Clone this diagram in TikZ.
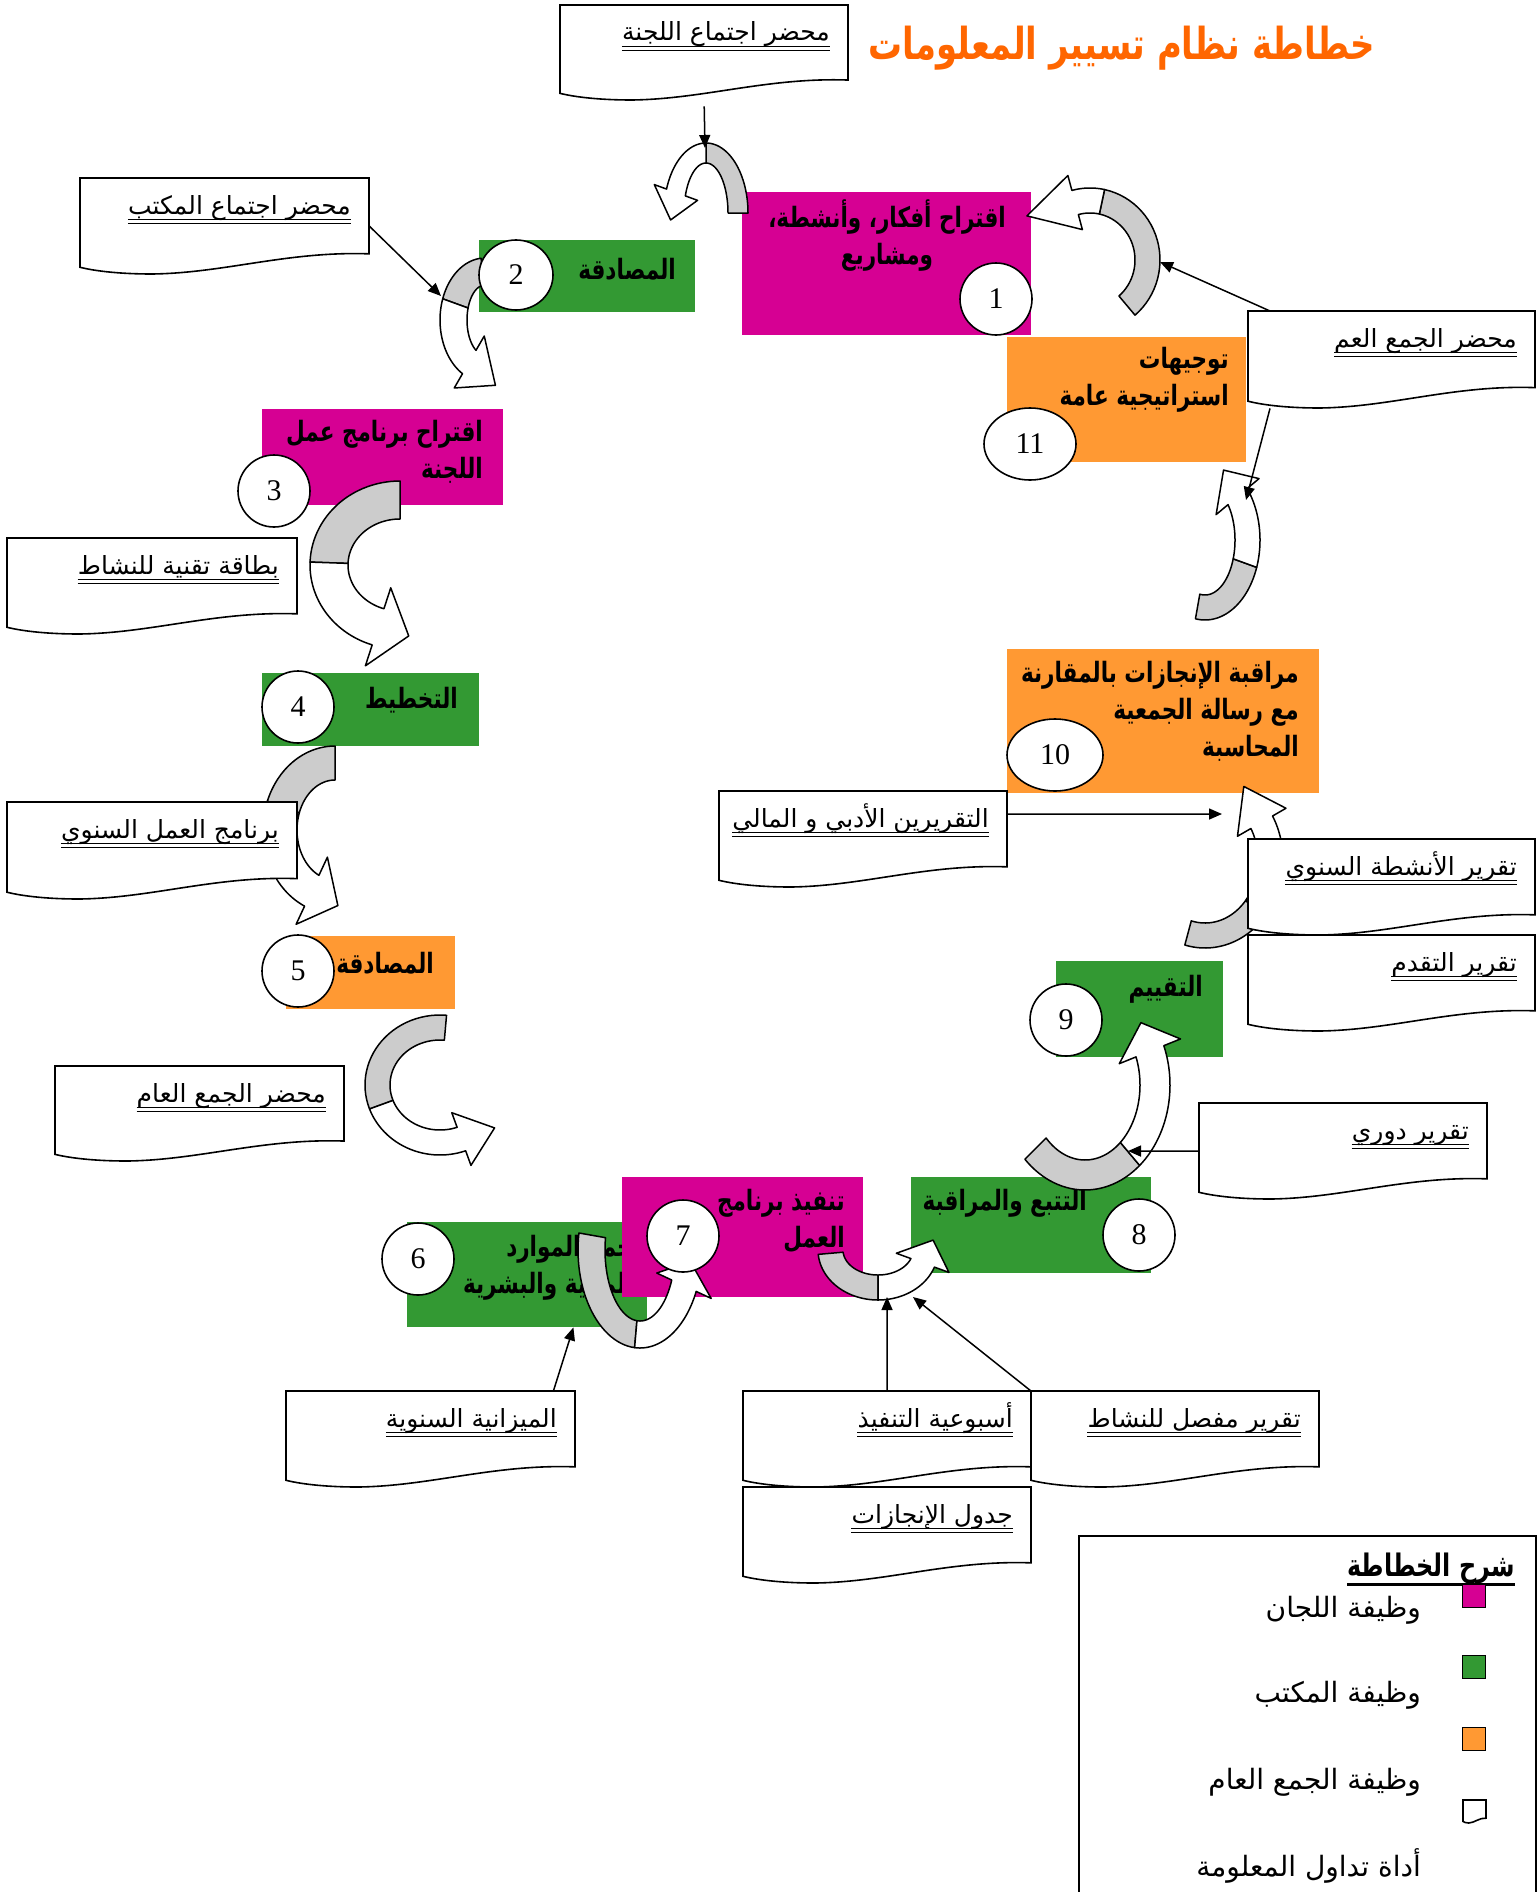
\documentclass[tikz,border=0pt]{standalone}
\usepackage{fontspec}
\usetikzlibrary{shapes.geometric,arrows.meta,calc}
\TeXXeTstate=1
\newfontfamily\arab[Script=Arabic, BoldFeatures={FakeStretch=0.77}]{DejaVu Sans}
\newfontfamily\numf{Liberation Serif}
\definecolor{cmag}{RGB}{214,0,147}
\definecolor{cgreen}{RGB}{51,153,51}
\definecolor{corange}{RGB}{255,153,51}
\definecolor{ctitle}{RGB}{255,102,0}
\definecolor{cgrey}{RGB}{204,204,204}
\newcommand\AR[1]{\beginR #1\endR}
% curved block arrow: cx cy rx ry w t0 tm t1 headlength
\newcommand\CArrow[9]{%
 \pgfmathsetmacro\caCX{#1}\pgfmathsetmacro\caCY{#2}%
 \pgfmathsetmacro\caRXo{#3}\pgfmathsetmacro\caRYo{#4}%
 \pgfmathsetmacro\caRXi{#3-#5}\pgfmathsetmacro\caRYi{#4-#5}%
 \pgfmathsetmacro\caRXm{#3-#5/2}\pgfmathsetmacro\caRYm{#4-#5/2}%
 \pgfmathsetmacro\caHE{0.5*#5+3}%
 \pgfmathsetmacro\caS{sign((#8)-(#6))}%
 \pgfmathsetmacro\caTX{-\caS*\caRXm*sin(#8)}%
 \pgfmathsetmacro\caTY{\caS*\caRYm*cos(#8)}%
 \pgfmathsetmacro\caTL{veclen(\caTX,\caTY)}%
 \pgfmathsetmacro\caPX{\caCX+\caRXm*cos(#8)+#9*\caTX/\caTL}%
 \pgfmathsetmacro\caPY{\caCY+\caRYm*sin(#8)+#9*\caTY/\caTL}%
 \pgfmathsetmacro\caOX{\caCX+(\caRXo+\caHE)*cos(#8)}%
 \pgfmathsetmacro\caOY{\caCY+(\caRYo+\caHE)*sin(#8)}%
 \pgfmathsetmacro\caIX{\caCX+(\caRXi-\caHE)*cos(#8)}%
 \pgfmathsetmacro\caIY{\caCY+(\caRYi-\caHE)*sin(#8)}%
 \filldraw[bandgrey] plot[domain=#6:#7,variable=\q,samples=30] ({\caCX+\caRXo*cos(\q)},{\caCY+\caRYo*sin(\q)}) -- plot[domain=#7:#6,variable=\q,samples=30] ({\caCX+\caRXi*cos(\q)},{\caCY+\caRYi*sin(\q)}) -- cycle;
 \filldraw[bandwhite] plot[domain=#7:#8,variable=\q,samples=30] ({\caCX+\caRXo*cos(\q)},{\caCY+\caRYo*sin(\q)}) -- (\caOX,\caOY) -- (\caPX,\caPY) -- (\caIX,\caIY) -- plot[domain=#8:#7,variable=\q,samples=30] ({\caCX+\caRXi*cos(\q)},{\caCY+\caRYi*sin(\q)}) -- cycle;
}
\newcommand\DocShape[4]{%
 \filldraw[docline] (#1,#2) -- ({#1+#3},#2) -- ({#1+#3},{#2+0.79*#4}) .. controls ({#1+0.72*#3},{#2+0.76*#4}) and ({#1+0.5*#3},{#2+0.99*#4}) .. ({#1+0.25*#3},{#2+#4}) .. controls ({#1+0.12*#3},{#2+1.0*#4}) and ({#1+0.04*#3},{#2+0.96*#4}) .. (#1,{#2+0.93*#4}) -- cycle;}
\newcommand\DocBox[6]{%
 \node[inner sep=0, minimum width=#4pt, minimum height=#5pt, anchor=north west] (#1) at (#2,#3) {};
 \DocShape{#2}{#3}{#4}{#5}
 \node[dtext] (#1t) at ({#2+#4-18},{#3+36}) {#6};
 \draw[uline] ([yshift=-5pt]#1t.base west) -- ([yshift=-5pt]#1t.base east);
 \draw[uline] ([yshift=-9pt]#1t.base west) -- ([yshift=-9pt]#1t.base east);
}
\begin{document}
\begin{tikzpicture}[x=1pt,y=-1pt,
 bandgrey/.style={fill=cgrey, draw=black, line width=1.5pt, line join=round},
 bandwhite/.style={fill=white, draw=black, line width=1.5pt, line join=round},
 docline/.style={fill=white, draw=black, line width=1.6pt},
 uline/.style={line width=0.9pt},
 pbox/.style={inner sep=0, anchor=north west, draw=none},
 circ/.style={ellipse, draw, fill=white, line width=1.6pt, inner sep=0, font=\numf\fontsize{30}{32}\selectfont},
 btext/.style={font=\arab\bfseries\fontsize{28}{37}\selectfont, align=right, inner sep=0},
 dtext/.style={font=\arab\fontsize{25}{30}\selectfont, inner sep=0, anchor=base east},
 ltext/.style={font=\arab\fontsize{28}{32}\selectfont, inner sep=0, anchor=east},
 conn/.style={line width=1.5pt, -{Triangle[length=13pt,width=11pt]}}]
\fill[white] (0,0) rectangle (1537,1892);
\useasboundingbox (0,0) rectangle (1537,1892);

% ---------- coloured process boxes
\node[pbox, fill=cmag, minimum width=289pt, minimum height=143pt] (p1) at (742,192) {};
\node[pbox, fill=cgreen, minimum width=216pt, minimum height=72pt] (p2) at (479,240) {};
\node[pbox, fill=corange, minimum width=239pt, minimum height=125pt] (p11) at (1007,337) {};
\node[pbox, fill=cmag, minimum width=241pt, minimum height=96pt] (p3) at (262,409) {};
\node[pbox, fill=cgreen, minimum width=217pt, minimum height=73pt] (p4) at (262,673) {};
\node[pbox, fill=corange, minimum width=169pt, minimum height=73pt] (p5) at (286,936) {};
\node[pbox, fill=cgreen, minimum width=240pt, minimum height=105pt] (p6) at (407,1222) {};
\node[btext, anchor=east] (p6t) at (633,1268) {\AR{جمع الموارد}\\\AR{المالية والبشرية}};
\node[pbox, fill=cmag, minimum width=241pt, minimum height=120pt] (p7) at (622,1177) {};
\node[pbox, fill=cgreen, minimum width=240pt, minimum height=96pt] (p8) at (911,1177) {};
\node[pbox, fill=cgreen, minimum width=167pt, minimum height=96pt] (p9) at (1056,961) {};
\node[pbox, fill=corange, minimum width=312pt, minimum height=144pt] (p10) at (1007,649) {};

% ---------- box texts
\node[btext, align=center] (p1t) at (887,236) {\AR{اقتراح أفكار، وأنشطة،}\\\AR{ومشاريع}};
\node[btext, anchor=east] (p2t) at (676,269) {\AR{المصادقة}};
\node[btext, anchor=east] (p11t) at (1229,380) {\AR{توجيهات}\\\AR{استراتيجية عامة}};
\node[btext, anchor=east] (p3t) at (483,452) {\AR{اقتراح برنامج عمل}\\\AR{اللجنة}};
\node[btext, anchor=east] (p4t) at (458,700) {\AR{التخطيط}};
\node[btext, anchor=east] (p5t) at (434,963) {\AR{المصادقة}};
\node[btext, anchor=east] (p7t) at (845,1221) {\AR{تنفيذ برنامج}\\\AR{العمل}};
\node[btext, anchor=east] (p8t) at (1087,1203) {\AR{التتبع والمراقبة}};
\node[btext, anchor=east] (p9t) at (1203,989) {\AR{التقييم}};
\node[btext, anchor=east] (p10t) at (1299,711) {\AR{مراقبة الإنجازات بالمقارنة}\\\AR{مع رسالة الجمعية}\\\AR{المحاسبة}};

% ---------- curved block arrows
\CArrow{706}{213}{42}{70}{20}{0}{-90}{-160}{28}
\CArrow{485}{320}{45}{62}{27}{-95}{-160}{-240}{35}
\CArrow{400}{565}{90}{84}{38}{-90}{-178}{-252}{32}
\CArrow{335}{830}{72}{84}{34}{-90}{-160}{-245}{30}
\CArrow{440}{1085}{75}{70}{25}{-85}{-200}{-290}{35}
\CArrow{640}{1250}{62}{98}{27}{190}{95}{25}{25}
\CArrow{878}{1250}{60}{50}{25}{175}{90}{20}{25}
\CArrow{1085}{1085}{85}{105}{30}{135}{50}{-22}{30}
\CArrow{1205}{860}{78}{88}{25}{105}{40}{-30}{40}
\CArrow{1205}{540}{55}{80}{25}{100}{20}{-40}{30}
\CArrow{1090}{260}{70}{72}{25}{50}{-78}{-105}{50}

\coordinate (a1top) at (705,148);
\coordinate (a2in) at (441,296);
\coordinate (a11in) at (1160,262);
\coordinate (a10in) at (1246,500);
\coordinate (a9in) at (1222,814);
\coordinate (a8in) at (1128,1151);
\coordinate (a7in) at (887,1297);
\coordinate (a7inb) at (913,1297);

% ---------- documents
\DocBox{d1}{560}{5}{288}{95}{\AR{محضر اجتماع اللجنة}}
\DocBox{d2}{80}{178}{289}{96}{\AR{محضر اجتماع المكتب}}
\DocBox{d3}{1248}{311}{287}{97}{\AR{محضر الجمع العم}}
\DocBox{d4}{7}{538}{290}{96}{\AR{بطاقة تقنية للنشاط}}
\DocBox{d5}{7}{802}{290}{97}{\AR{برنامج العمل السنوي}}
\DocBox{d6}{55}{1066}{289}{95}{\AR{محضر الجمع العام}}
\DocBox{d7}{719}{791}{288}{96}{\AR{التقريرين الأدبي و المالي}}
\DocBox{d8}{1248}{839}{287}{96}{\AR{تقرير الأنشطة السنوي}}
\DocBox{d9}{1248}{935}{287}{96}{\AR{تقرير التقدم}}
\DocBox{d10}{1199}{1103}{288}{96}{\AR{تقرير دوري}}
\DocBox{d11}{286}{1391}{289}{96}{\AR{الميزانية السنوية}}
\DocBox{d12}{743}{1391}{288}{96}{\AR{أسبوعية التنفيذ}}
\DocBox{d13}{1031}{1391}{288}{96}{\AR{تقرير مفصل للنشاط}}
\DocBox{d14}{743}{1487}{288}{96}{\AR{جدول الإنجازات}}

% ---------- numbered circles
\node[circ, minimum width=72pt, minimum height=72pt] (c1) at (996,299) {1};
\node[circ, minimum width=74pt, minimum height=70pt] (c2) at (516,275) {2};
\node[circ, minimum width=72pt, minimum height=72pt] (c3) at (274,491) {3};
\node[circ, minimum width=72pt, minimum height=72pt] (c4) at (298,707) {4};
\node[circ, minimum width=72pt, minimum height=72pt] (c5) at (298,971) {5};
\node[circ, minimum width=72pt, minimum height=72pt] (c6) at (418,1259) {6};
\node[circ, minimum width=72pt, minimum height=72pt] (c7) at (683,1236) {7};
\node[circ, minimum width=72pt, minimum height=72pt] (c8) at (1139,1235) {8};
\node[circ, minimum width=72pt, minimum height=72pt] (c9) at (1066,1020) {9};
\node[circ, minimum width=96pt, minimum height=72pt] (c10) at (1055,755) {10};
\node[circ, minimum width=92pt, minimum height=72pt] (c11) at (1030,444) {11};

% ---------- connectors
\draw[conn] ([yshift=-6pt]d1.south) -- (a1top);
\draw[conn] (d2.east) -- (a2in);
\draw[conn] ([xshift=22pt]d3.north west) -- (a11in);
\draw[conn] ([xshift=22pt]d3.south west) -- (a10in);
\draw[conn] ([yshift=25pt]d7.east) -- (a9in);
\draw[conn] (d10.west) -- (a8in);
\draw[conn] ([xshift=-22pt]d11.north east) -- ([xshift=-74pt]p6.south east);
\draw[conn] (d12.north) -- (a7in);
\draw[conn] (d13.north west) -- (a7inb);

% ---------- title
\node[font=\arab\bfseries\fontsize{44}{52}\selectfont, text=ctitle, anchor=east, inner sep=0] (title) at (1375,48) {\AR{خطاطة نظام تسيير المعلومات}};

% ---------- legend
\node[draw, line width=1.5pt, minimum width=457pt, minimum height=380pt, anchor=north west, inner sep=0] (leg) at (1078,1535) {};
\node[font=\arab\bfseries\fontsize{31}{34}\selectfont, inner sep=0, anchor=base east] (legt) at (1515,1576) {\AR{شرح الخطاطة}};
\draw[line width=3pt] ([yshift=-8pt]legt.base west) -- ([yshift=-8pt]legt.base east);
\node[draw, fill=cmag, minimum size=23pt, inner sep=0, line width=1.2pt] (lm) at (1474,1596) {};
\node[draw, fill=cgreen, minimum size=23pt, inner sep=0, line width=1.2pt] (lg) at (1474,1667) {};
\node[draw, fill=corange, minimum size=23pt, inner sep=0, line width=1.2pt] (lo) at (1474,1739) {};
\DocShape{1463}{1800}{23}{23}
\node[ltext] (l1) at (1421,1610) {\AR{وظيفة اللجان}};
\node[ltext] (l2) at (1421,1695) {\AR{وظيفة المكتب}};
\node[ltext] (l3) at (1421,1782) {\AR{وظيفة الجمع العام}};
\node[ltext] (l4) at (1421,1866) {\AR{أداة تداول المعلومة}};
\end{tikzpicture}
\end{document}
